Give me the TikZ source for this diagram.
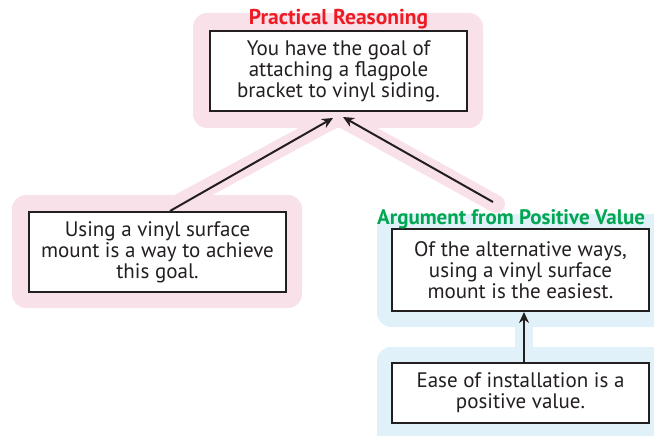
\documentclass[tikz,border=0pt]{standalone}
\usepackage{fontspec}
\setmainfont{PT Sans}
\usetikzlibrary{arrows.meta,calc}
\definecolor{pinkbg}{HTML}{F9E1EA}
\definecolor{bluebg}{HTML}{E0F1F9}
\definecolor{titlered}{HTML}{ED1C24}
\definecolor{titlegreen}{HTML}{00A651}
\definecolor{inkgray}{HTML}{231F20}
\tikzset{
  claim/.style={draw=inkgray, line width=2pt, fill=white, rectangle, align=center,
    text=inkgray, minimum width=257pt, inner sep=0pt, font=\fontsize{21}{21}\selectfont},
  pinkpanel/.style={fill=pinkbg, rounded corners=14pt},
  bluepanel/.style={fill=bluebg, rounded corners=14pt},
  pinkstrip/.style={draw=pinkbg, line width=18pt, line cap=round},
  bluestrip/.style={draw=bluebg, line width=18pt},
  arr/.style={draw=inkgray, line width=2pt, -{Stealth[length=11pt,width=10pt]}},
  schemetitle/.style={font=\fontsize{21.5}{22}\selectfont\bfseries, inner sep=0pt}
}
\begin{document}
\begin{tikzpicture}[x=1pt,y=-1pt]
\useasboundingbox (0,0) rectangle (654,436);
\clip (0,0) rectangle (654,436);
% panels
\fill[pinkpanel] (193,13) rectangle (483,128);
\fill[pinkpanel] (12,195) rectangle (302,308);
\fill[bluepanel] (377,214) rectangle (680,327);
\fill[bluepanel] (377,347) rectangle (680,450);
\draw[pinkstrip] (162,212) -- (336,118);
\draw[pinkstrip] (341,118) -- (496,204);
\draw[bluestrip] (524,322) -- (524,352);
% claims
\node[claim, minimum height=80pt] (goal) at (338.5,71) {You have the goal of\\attaching a flagpole\\bracket to vinyl siding.};
\node[claim, minimum height=80pt] (means) at (157.5,252) {Using a vinyl surface\\mount is a way to achieve\\this goal.};
\node[claim, minimum height=82pt] (easiest) at (520.5,270) {Of the alternative ways,\\using a vinyl surface\\mount is the easiest.};
\node[claim, minimum height=60pt] (value) at (520.5,393) {Ease of installation is a\\positive value.};
% titles
\node[schemetitle, text=titlered, anchor=base] (t1) at (338.5,25) {Practical Reasoning};
\node[schemetitle, text=titlegreen, anchor=base west, font=\fontsize{21}{22}\selectfont\bfseries] (t2) at (377,224) {Argument from Positive Value};
\coordinate (c2) at (493,202);
% arrows
\draw[arr] ([xshift=12.5pt]means.north) -- ([xshift=-5.5pt,yshift=-6pt]goal.south);
\draw[arr] (c2) -- ([xshift=4.5pt,yshift=-5pt]goal.south);
\draw[arr] ([xshift=3.5pt]value.north) -- ([xshift=3.5pt]easiest.south);
\end{tikzpicture}
\end{document}
